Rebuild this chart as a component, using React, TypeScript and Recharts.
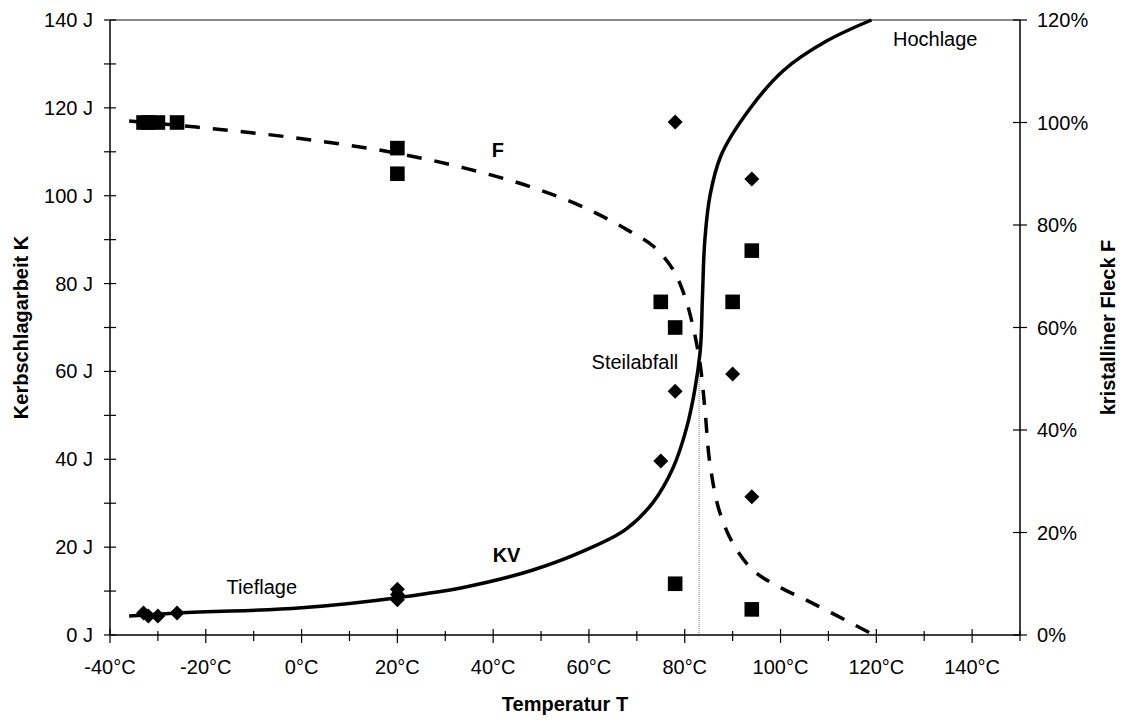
import React from 'react';
import {
  ComposedChart,
  Line,
  Scatter,
  XAxis,
  YAxis,
  ReferenceLine,
  ReferenceDot,
  Label,
} from 'recharts';

const FONT = '"Liberation Sans", Arial, sans-serif';

// measured points: impact energy KV (J) vs temperature
const kvTemps = [-33, -32, -30, -26, 20, 20, 20, 75, 78, 78, 90, 94, 94];
const kvValues = [5, 4.3, 4.3, 5, 10.4, 9.2, 8.0, 39.6, 116.8, 55.5, 59.4, 103.8, 31.5];

// measured points: crystalline fraction F (%) vs temperature
const fTemps = [-33, -32, -30, -26, 20, 20, 75, 78, 78, 90, 94, 94];
const fValues = [100, 100, 100, 100, 95, 90, 65, 60, 10, 65, 75, 5];

// fitted KV curve
const kvCurveT = [-36, -26, 0, 20, 34.5, 48.3, 58.8, 67.9, 73.4, 77.5, 80.4, 82.1, 83.2, 83.7, 84.2, 85.3, 87.4, 93.6, 100.5, 109.6, 119];
const kvCurveK = [4.3, 5.0, 6.2, 8.5, 11.0, 14.8, 19.1, 24.2, 30.2, 37.9, 47.2, 55.8, 64.3, 77.1, 89.9, 100.2, 108.7, 119.8, 128.4, 135.2, 140];

// fitted F curve
const fCurveT = [-36, -22, 2, 20.5, 34.5, 48.3, 58.8, 67.9, 73.4, 77.5, 80, 81.7, 83.2, 84.2, 85.3, 87.4, 90.1, 94.2, 100.5, 105.4, 118.7];
const fCurveF = [100.3, 99.1, 96.6, 93.9, 91.0, 87.3, 83.5, 79.1, 75.9, 71.4, 66.1, 60.3, 52.9, 44.2, 33.2, 23.7, 17.8, 12.7, 9.0, 6.8, 0.4];

const xTicks = [-40, -30, -20, -10, 0, 10, 20, 30, 40, 50, 60, 70, 80, 90, 100, 110, 120, 130, 140, 150];
const leftTicks = [0, 10, 20, 30, 40, 50, 60, 70, 80, 90, 100, 110, 120, 130, 140];
const rightTicks = [0, 20, 40, 60, 80, 100, 120];

const transitionT = 83;
const transitionK = 59;

const annotations = [
  { text: 'F', T: 41, K: 110.4, bold: true },
  { text: 'KV', T: 42.8, K: 18.2, bold: true },
  { text: 'Tieflage', T: -8.3, K: 11, bold: false },
  { text: 'Steilabfall', T: 69.6, K: 62.1, bold: false },
  { text: 'Hochlage', T: 132.3, K: 135.8, bold: false },
];

const kvPoints = kvTemps.map((T, i) => ({ T, K: kvValues[i] }));
const fPoints = fTemps.map((T, i) => ({ T, F: fValues[i] }));
const kvCurve = kvCurveT.map((T, i) => ({ T, K: kvCurveK[i] }));
const fCurve = fCurveT.map((T, i) => ({ T, F: fCurveF[i] }));

// chordal catmull-rom, so the fitted lines pass smoothly through the read points
const smoothCurve = (context: any) => {
  let pts: number[][] = [];
  return {
    areaStart() {},
    areaEnd() {},
    lineStart() {
      pts = [];
    },
    point(x: number, y: number) {
      pts.push([+x, +y]);
    },
    lineEnd() {
      if (!pts.length) return;
      context.moveTo(pts[0][0], pts[0][1]);
      const dist = (a: number[], b: number[]) => Math.hypot(a[0] - b[0], a[1] - b[1]);
      for (let i = 0; i < pts.length - 1; i++) {
        const p0 = pts[i - 1] || pts[i];
        const p1 = pts[i];
        const p2 = pts[i + 1];
        const p3 = pts[i + 2] || p2;
        const d1 = dist(p0, p1);
        const d2 = dist(p1, p2);
        const d3 = dist(p2, p3);
        let c1 = p1;
        let c2 = p2;
        if (d1 > 1e-6) {
          const n = 3 * d1 * (d1 + d2);
          c1 = [0, 1].map(
            (k) => (p2[k] * d1 * d1 - p0[k] * d2 * d2 + p1[k] * (2 * d1 * d1 + 3 * d1 * d2 + d2 * d2)) / n
          );
        }
        if (d3 > 1e-6) {
          const m = 3 * d3 * (d3 + d2);
          c2 = [0, 1].map(
            (k) => (p1[k] * d3 * d3 - p3[k] * d2 * d2 + p2[k] * (2 * d3 * d3 + 3 * d3 * d2 + d2 * d2)) / m
          );
        }
        context.bezierCurveTo(c1[0], c1[1], c2[0], c2[1], p2[0], p2[1]);
      }
    },
  };
};

const TS = 8; // tick size used for positioning

const XTick = ({ x, y, payload }: any) => {
  const v = payload.value;
  const major = v % 20 === 0;
  const ay = y - TS;
  return (
    <g>
      <line x1={x} x2={x} y1={ay - (major ? 6 : 4)} y2={ay + (major ? 8 : 6)} stroke="#000" strokeWidth={1.2} />
      {major && (
        <text x={x} y={ay + 39} textAnchor="middle" fontSize={20} fontFamily={FONT} fill="#000">
          {v}°C
        </text>
      )}
    </g>
  );
};

const LeftTick = ({ x, y, payload }: any) => {
  const v = payload.value;
  const major = v % 20 === 0;
  const ax = x + TS;
  return (
    <g>
      <line x1={ax - 6} x2={ax + 6} y1={y} y2={y} stroke="#000" strokeWidth={1.2} />
      {major && (
        <text x={ax - 17} y={y + 7} textAnchor="end" fontSize={20} fontFamily={FONT} fill="#000">
          {v} J
        </text>
      )}
    </g>
  );
};

const RightTick = ({ x, y, payload }: any) => {
  const v = payload.value;
  const ax = x - TS;
  return (
    <g>
      <line x1={ax - 7} x2={ax + 7} y1={y} y2={y} stroke="#000" strokeWidth={1.2} />
      <text x={ax + 17} y={y + 7} textAnchor="start" fontSize={20} fontFamily={FONT} fill="#000">
        {v}%
      </text>
    </g>
  );
};

const Diamond = ({ cx, cy }: any) => (
  <polygon
    points={`${cx},${cy - 7.5} ${cx + 7.5},${cy} ${cx},${cy + 7.5} ${cx - 7.5},${cy}`}
    fill="#000"
  />
);

const Square = ({ cx, cy }: any) => (
  <rect x={cx - 7.3} y={cy - 7.3} width={14.6} height={14.6} fill="#000" />
);

const titleStyle = { fontSize: 20, fontWeight: 'bold' as const, fontFamily: FONT, fill: '#000' };

const LeftTitle = (props: any) => {
  const vb = props.viewBox || { x: 0, y: 20, width: 110, height: 615 };
  const cx = 21;
  const cy = vb.y + vb.height / 2;
  return (
    <text x={cx} y={cy} transform={`rotate(-90 ${cx} ${cy})`} textAnchor="middle" dominantBaseline="central" {...titleStyle}>
      Kerbschlagarbeit K
    </text>
  );
};

const RightTitle = (props: any) => {
  const vb = props.viewBox || { x: 1020, y: 20, width: 105, height: 615 };
  const cx = 1108;
  const cy = vb.y + vb.height / 2;
  return (
    <text x={cx} y={cy} transform={`rotate(-90 ${cx} ${cy})`} textAnchor="middle" dominantBaseline="central" {...titleStyle}>
      kristalliner Fleck F
    </text>
  );
};

const BottomTitle = (props: any) => {
  const vb = props.viewBox || { x: 110, y: 635, width: 910, height: 85 };
  return (
    <text x={vb.x + vb.width / 2} y={711} textAnchor="middle" {...titleStyle}>
      Temperatur T
    </text>
  );
};

export default function App() {
  return (
    <div style={{ position: 'absolute', left: 0, top: 0, width: 1125, height: 720, background: '#fff' }}>
      <ComposedChart width={1125} height={720} margin={{ top: 20, right: 0, bottom: 0, left: 0 }}>
        <XAxis
          dataKey="T"
          type="number"
          domain={[-40, 150]}
          ticks={xTicks}
          interval={0}
          height={85}
          tickSize={TS}
          tickMargin={0}
          tickLine={false}
          tick={<XTick />}
          axisLine={{ stroke: '#000', strokeWidth: 1.5 }}
        >
          <Label content={<BottomTitle />} />
        </XAxis>
        <YAxis
          yAxisId="left"
          orientation="left"
          type="number"
          domain={[0, 140]}
          ticks={leftTicks}
          interval={0}
          width={110}
          tickSize={TS}
          tickMargin={0}
          tickLine={false}
          tick={<LeftTick />}
          axisLine={{ stroke: '#000', strokeWidth: 1.5 }}
        >
          <Label content={<LeftTitle />} />
        </YAxis>
        <YAxis
          yAxisId="right"
          orientation="right"
          type="number"
          domain={[0, 120]}
          ticks={rightTicks}
          interval={0}
          width={105}
          tickSize={TS}
          tickMargin={0}
          tickLine={false}
          tick={<RightTick />}
          axisLine={{ stroke: '#000', strokeWidth: 1.5 }}
        >
          <Label content={<RightTitle />} />
        </YAxis>

        <ReferenceLine yAxisId="left" y={140} stroke="#888" strokeWidth={2} />
        <ReferenceLine
          yAxisId="left"
          segment={[{ x: transitionT, y: 0 }, { x: transitionT, y: transitionK }]}
          stroke="#777"
          strokeWidth={1}
          strokeDasharray="1 1"
        />

        <Line
          yAxisId="left"
          data={kvCurve}
          dataKey="K"
          type={smoothCurve as any}
          stroke="#000"
          strokeWidth={3.5}
          dot={false}
          activeDot={false}
          isAnimationActive={false}
        />
        <Line
          yAxisId="right"
          data={fCurve}
          dataKey="F"
          type={smoothCurve as any}
          stroke="#000"
          strokeWidth={3.5}
          strokeDasharray="15 13"
          dot={false}
          activeDot={false}
          isAnimationActive={false}
        />
        <Scatter yAxisId="left" data={kvPoints} dataKey="K" shape={<Diamond />} isAnimationActive={false} />
        <Scatter yAxisId="right" data={fPoints} dataKey="F" shape={<Square />} isAnimationActive={false} />

        {annotations.map((a) => (
          <ReferenceDot
            key={a.text}
            yAxisId="left"
            x={a.T}
            y={a.K}
            r={0}
            fill="none"
            stroke="none"
            label={{
              value: a.text,
              position: 'center',
              fill: '#000',
              fontSize: 20,
              fontFamily: FONT,
              fontWeight: a.bold ? 'bold' : 'normal',
            }}
          />
        ))}
      </ComposedChart>
    </div>
  );
}
